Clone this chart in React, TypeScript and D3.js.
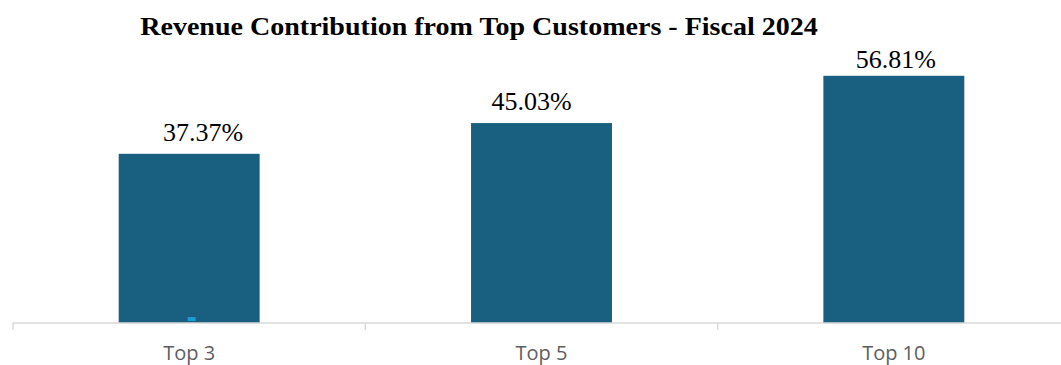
import React, { useEffect, useRef, useState } from "react";
import * as d3 from "d3";

const categories = ["Top 3", "Top 5", "Top 10"];
const shareValues = [37.37, 45.03, 56.81];
const markerValues = [-3.8, null, null];
const titleText = "Revenue Contribution from Top Customers - Fiscal 2024";

const W = 1061;
const H = 365;
const labelShift = [14, -10, 2];
const TITLE_W = 678;
const TITLE_CX = 479;

export default function App() {
  const titleRef = useRef<SVGTextElement>(null);
  const [sx, setSx] = useState(1);
  useEffect(() => {
    if (titleRef.current) {
      const w = titleRef.current.getComputedTextLength();
      if (w > 0) setSx(TITLE_W / w);
    }
  }, []);
  const x = d3.scaleBand<string>().domain(categories).range([13, 1070]).padding(0);
  const y = d3.scaleLinear().domain([-4.8, 60]).range([323, 63]);
  const bw = x.bandwidth();
  const barW = bw * 0.4;
  const tickXs = categories.map((c) => x(c) as number);
  return (
    <svg
      width={W}
      height={H}
      style={{ position: "absolute", left: 0, top: 0, background: "#fff" }}
    >
      <g transform={`translate(${TITLE_CX},35) scale(${sx},1)`}>
        <text
          ref={titleRef}
          x={0}
          y={0}
          textAnchor="middle"
          fontFamily="'Liberation Serif', 'Times New Roman', serif"
          fontWeight={700}
          fontSize={25}
          fill="#000"
        >
          {titleText}
        </text>
      </g>
      {categories.map((c, i) => {
        const cx = (x(c) as number) + bw / 2;
        const top = y(shareValues[i]);
        return (
          <g key={c}>
            <rect x={cx - barW / 2} y={top} width={barW} height={y.range()[0] - top} fill="#185f80" />
            <text
              x={cx + labelShift[i]}
              y={Math.max(top - 13, 68)}
              textAnchor="middle"
              fontFamily="'Liberation Serif', 'Times New Roman', serif"
              fontSize={26}
              fill="#000"
            >
              {shareValues[i].toFixed(2)}%
            </text>
          </g>
        );
      })}
      {categories.map((c, i) => {
        const v = markerValues[i];
        if (v == null) return null;
        const cx = (x(c) as number) + bw / 2;
        return <rect key={"m" + c} x={cx - 1.5} y={y(v) - 2} width={8} height={4} fill="#1b9ad6" />;
      })}
      <line x1={13} x2={W} y1={323} y2={323} stroke="#d9d9d9" strokeWidth={1.5} />
      {tickXs.map((tx, i) => (
        <line key={"t" + i} x1={tx} x2={tx} y1={323} y2={330} stroke="#d9d9d9" strokeWidth={1.5} />
      ))}
      {categories.map((c) => (
        <text
          key={"l" + c}
          x={(x(c) as number) + bw / 2}
          y={360}
          textAnchor="middle"
          fontFamily="'Open Sans', 'Noto Sans', sans-serif"
          fontSize={20}
          fill="#5e5e5e"
        >
          {c}
        </text>
      ))}
    </svg>
  );
}
